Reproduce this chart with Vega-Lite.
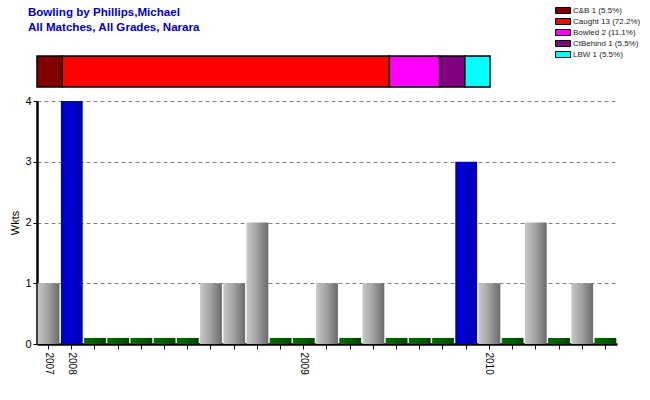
{
  "$schema": "https://vega.github.io/schema/vega-lite/v6.json",
  "background": "white",
  "padding": {"left": 9, "top": 5, "right": 5, "bottom": 5},
  "title": {
    "text": ["Bowling by Phillips,Michael", "All Matches, All Grades, Narara"],
    "anchor": "start",
    "frame": "bounds",
    "font": "Liberation Sans",
    "fontSize": 11.6,
    "fontWeight": "bold",
    "color": "#0000CC",
    "lineHeight": 15,
    "offset": -29,
    "dx": 18
  },
  "spacing": 14,
  "bounds": "flush",
  "config": {"view": {"stroke": null}, "font": "Liberation Sans"},
  "vconcat": [
    {
      "width": 453,
      "height": 31,
      "data": {"values": [
        {"type": "C&B", "n": 1, "label": "C&B 1 (5.5%)", "order": 1, "row": "all"},
        {"type": "Caught", "n": 13, "label": "Caught 13 (72.2%)", "order": 2, "row": "all"},
        {"type": "Bowled", "n": 2, "label": "Bowled 2 (11.1%)", "order": 3, "row": "all"},
        {"type": "CtBehind", "n": 1, "label": "CtBehind 1 (5.5%)", "order": 4, "row": "all"},
        {"type": "LBW", "n": 1, "label": "LBW 1 (5.5%)", "order": 5, "row": "all"}
      ]},
      "mark": {"type": "bar", "stroke": "black", "strokeWidth": 1.5},
      "encoding": {
        "x": {"field": "n", "type": "quantitative", "stack": "zero", "scale": {"domain": [0, 18], "nice": false}, "axis": null},
        "y": {"field": "row", "type": "nominal", "axis": null, "scale": {"paddingInner": 0, "paddingOuter": 0}},
        "color": {
          "field": "label",
          "type": "nominal",
          "sort": ["C&B 1 (5.5%)", "Caught 13 (72.2%)", "Bowled 2 (11.1%)", "CtBehind 1 (5.5%)", "LBW 1 (5.5%)"],
          "scale": {
            "domain": ["C&B 1 (5.5%)", "Caught 13 (72.2%)", "Bowled 2 (11.1%)", "CtBehind 1 (5.5%)", "LBW 1 (5.5%)"],
            "range": ["#800000", "#FF0000", "#FF00FF", "#800080", "#00FFFF"]
          },
          "legend": {
            "orient": "none",
            "legendX": 520.5,
            "legendY": -51,
            "title": null,
            "symbolType": "M-1.5,-0.6H1.5V0.6H-1.5Z",
            "symbolSize": 100,
            "symbolStrokeColor": "black",
            "symbolStrokeWidth": 1,
            "labelFont": "Liberation Sans",
            "labelFontSize": 8,
            "labelColor": "#222222",
            "labelOffset": 4.5,
            "rowPadding": -2
          }
        },
        "order": {"field": "order", "type": "quantitative"}
      }
    },
    {
      "width": 580,
      "height": 243,
      "data": {"values": [
        {"n": 1, "key": "2007", "wkts": 1, "bar": 1, "cat": "gray"},
        {"n": 2, "key": "2008", "wkts": 4, "bar": 4, "cat": "blue"},
        {"n": 3, "key": "2008-3", "wkts": 0, "bar": 0.1, "cat": "green"},
        {"n": 4, "key": "2008-4", "wkts": 0, "bar": 0.1, "cat": "green"},
        {"n": 5, "key": "2008-5", "wkts": 0, "bar": 0.1, "cat": "green"},
        {"n": 6, "key": "2008-6", "wkts": 0, "bar": 0.1, "cat": "green"},
        {"n": 7, "key": "2008-7", "wkts": 0, "bar": 0.1, "cat": "green"},
        {"n": 8, "key": "2008-8", "wkts": 1, "bar": 1, "cat": "gray"},
        {"n": 9, "key": "2008-9", "wkts": 1, "bar": 1, "cat": "gray"},
        {"n": 10, "key": "2008-10", "wkts": 2, "bar": 2, "cat": "gray"},
        {"n": 11, "key": "2008-11", "wkts": 0, "bar": 0.1, "cat": "green"},
        {"n": 12, "key": "2009", "wkts": 0, "bar": 0.1, "cat": "green"},
        {"n": 13, "key": "2009-13", "wkts": 1, "bar": 1, "cat": "gray"},
        {"n": 14, "key": "2009-14", "wkts": 0, "bar": 0.1, "cat": "green"},
        {"n": 15, "key": "2009-15", "wkts": 1, "bar": 1, "cat": "gray"},
        {"n": 16, "key": "2009-16", "wkts": 0, "bar": 0.1, "cat": "green"},
        {"n": 17, "key": "2009-17", "wkts": 0, "bar": 0.1, "cat": "green"},
        {"n": 18, "key": "2009-18", "wkts": 0, "bar": 0.1, "cat": "green"},
        {"n": 19, "key": "2009-19", "wkts": 3, "bar": 3, "cat": "blue"},
        {"n": 20, "key": "2010", "wkts": 1, "bar": 1, "cat": "gray"},
        {"n": 21, "key": "2010-21", "wkts": 0, "bar": 0.1, "cat": "green"},
        {"n": 22, "key": "2010-22", "wkts": 2, "bar": 2, "cat": "gray"},
        {"n": 23, "key": "2010-23", "wkts": 0, "bar": 0.1, "cat": "green"},
        {"n": 24, "key": "2010-24", "wkts": 1, "bar": 1, "cat": "gray"},
        {"n": 25, "key": "2010-25", "wkts": 0, "bar": 0.1, "cat": "green"}
      ]},
      "encoding": {
        "x": {
          "field": "key",
          "type": "nominal",
          "sort": {"field": "n", "op": "min"},
          "scale": {"paddingInner": 0.06, "paddingOuter": 0.03},
          "axis": {
            "title": null,
            "labelExpr": "indexof(datum.value, '-') > 0 ? '' : datum.value",
            "labelAngle": 90,
            "labelOverlap": false,
            "labelFontSize": 10,
            "labelColor": "black",
            "labelPadding": 3,
            "domainColor": "black",
            "domainWidth": 2.5,
            "tickColor": "black",
            "tickSize": 5,
            "grid": false
          }
        },
        "y": {
          "field": "bar",
          "type": "quantitative",
          "scale": {"domain": [0, 4], "nice": false},
          "axis": {
            "values": [0, 1, 2, 3, 4],
            "title": "Wkts",
            "titleFontWeight": "normal",
            "titleFontSize": 11,
            "titleColor": "black",
            "titlePadding": 4,
            "grid": true,
            "gridDash": [4, 3],
            "gridColor": "#808080",
            "domainColor": "black",
            "domainWidth": 2.5,
            "tickColor": "black",
            "tickSize": 4,
            "labelFontSize": 11,
            "labelColor": "black"
          }
        }
      },
      "layer": [
        {
          "transform": [{"filter": "datum.cat == 'gray'"}],
          "mark": {"type": "bar", "color": {"gradient": "linear", "x1": 0, "x2": 1, "y1": 0, "y2": 0, "stops": [{"offset": 0, "color": "#c8c8c8"}, {"offset": 0.5, "color": "#a0a0a0"}, {"offset": 1, "color": "#6a6a6a"}]}}
        },
        {
          "transform": [{"filter": "datum.cat == 'blue'"}],
          "mark": {"type": "bar", "color": {"gradient": "linear", "x1": 0, "x2": 1, "y1": 0, "y2": 0, "stops": [{"offset": 0, "color": "#0000B8"}, {"offset": 0.3, "color": "#0000D8"}, {"offset": 1, "color": "#0000B0"}]}}
        },
        {
          "transform": [{"filter": "datum.cat == 'green'"}],
          "mark": {"type": "bar", "color": {"gradient": "linear", "x1": 0, "x2": 1, "y1": 0, "y2": 0, "stops": [{"offset": 0, "color": "#007000"}, {"offset": 0.5, "color": "#005c00"}, {"offset": 1, "color": "#004400"}]}}
        }
      ]
    }
  ]
}
